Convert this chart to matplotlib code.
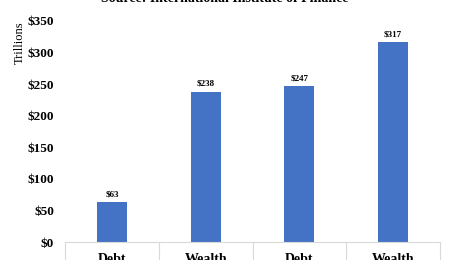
import matplotlib
matplotlib.use("Agg")
import matplotlib.pyplot as plt
import numpy as np

categories = ["Debt", "Wealth", "Debt", "Wealth"]
values = [63, 238, 247, 317]
value_labels = ["$63", "$238", "$247", "$317"]
yticks = [0, 50, 100, 150, 200, 250, 300, 350]
ytick_labels = ["$0", "$50", "$100", "$150", "$200", "$250", "$300", "$350"]
title = "Source: International Institute of Finance"

plt.rcParams['font.family'] = ['Liberation Serif', 'DejaVu Serif']

fig = plt.figure(figsize=(4.5, 2.6), dpi=100)
ax = fig.add_axes([65/450, 18/260, 375/450, 221/260])

x = np.arange(len(categories))
ax.bar(x, values, width=0.32, color="#4472C4")
for xi, v, lab in zip(x, values, value_labels):
    ax.text(xi, v + 6, lab, ha="center", va="bottom", fontsize=6.5, fontweight="bold")

ax.set_xlim(-0.5, len(categories) - 0.5)
ax.set_ylim(0, 350)
ax.set_yticks(yticks)
ax.set_yticklabels(ytick_labels, fontsize=9.5, fontweight="bold")
ax.tick_params(axis="y", length=0, pad=8)

ax.set_xticks(x)
ax.set_xticklabels(categories, fontsize=10, fontweight="bold")
ax.tick_params(axis="x", which="major", length=0, pad=8)
ax.set_xticks(np.arange(-0.5, len(categories)), minor=True)
ax.tick_params(axis="x", which="minor", length=20, color="#d9d9d9", width=0.8, direction="out")

for s in ["top", "right", "left"]:
    ax.spines[s].set_visible(False)
ax.spines["bottom"].set_color("#d9d9d9")
ax.spines["bottom"].set_linewidth(0.8)

fig.text(20/450, 1 - 43/260, "Trillions", rotation=90, ha="center", va="center", fontsize=9)
fig.text(0.5, 1 + 1.5/260, title, ha="center", va="center", fontsize=10, fontweight="bold")

fig.savefig("out.png", dpi=100)
